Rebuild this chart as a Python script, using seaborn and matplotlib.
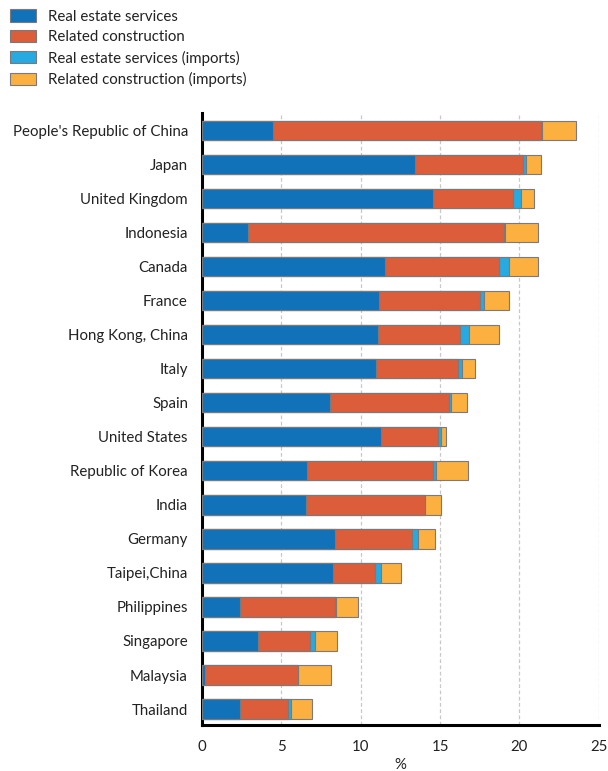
import matplotlib
matplotlib.use("Agg")
import matplotlib.pyplot as plt
import seaborn as sns
import numpy as np
import pandas as pd
from matplotlib.patches import Patch

economies = [
    "People's Republic of China", "Japan", "United Kingdom", "Indonesia",
    "Canada", "France", "Hong Kong, China", "Italy", "Spain",
    "United States", "Republic of Korea", "India", "Germany",
    "Taipei,China", "Philippines", "Singapore", "Malaysia", "Thailand",
]
real_estate = [4.46, 13.41, 14.53, 2.93, 11.52, 11.14, 11.07, 10.95, 8.08,
               11.26, 6.65, 6.57, 8.40, 8.25, 2.38, 3.56, 0.21, 2.40]
construction = [16.89, 6.82, 5.05, 16.08, 7.22, 6.35, 5.18, 5.18, 7.46,
                3.58, 7.90, 7.47, 4.86, 2.68, 5.98, 3.26, 5.85, 3.05]
real_estate_imp = [0.08, 0.17, 0.53, 0.08, 0.59, 0.28, 0.57, 0.25, 0.12,
                   0.19, 0.17, 0.04, 0.38, 0.33, 0.08, 0.30, 0.02, 0.19]
construction_imp = [2.15, 0.95, 0.82, 2.05, 1.83, 1.58, 1.90, 0.80, 1.03,
                    0.34, 2.06, 0.97, 1.03, 1.27, 1.37, 1.41, 2.05, 1.27]

series = ["Real estate services", "Related construction",
          "Real estate services (imports)", "Related construction (imports)"]
colors = ["#1172b9", "#dc5d3a", "#27a9e1", "#fbb040"]

df = pd.DataFrame({
    "economy": economies,
    series[0]: real_estate,
    series[1]: construction,
    series[2]: real_estate_imp,
    series[3]: construction_imp,
})
# cumulative ends of each stacked segment
cum = df[series].cumsum(axis=1)
cum["economy"] = df["economy"]

sns.set_theme(style="white")
plt.rcParams["font.family"] = ["Lato", "DejaVu Sans"]
fs = 10.8

fig = plt.figure(figsize=(6.08, 7.71), dpi=100)
ax = fig.add_axes([0.332, 0.0600, 0.653, 0.7935])

# draw from the outermost total inward so each segment sits on top
for name, col in reversed(list(zip(series, colors))):
    sns.barplot(data=cum, x=name, y="economy", order=economies, orient="h",
                color=col, saturation=1, width=0.57, edgecolor="#7a7a7a",
                linewidth=0.8, ax=ax, zorder=3)

ax.set_xlim(0, 25)
ax.set_ylim(17.46, -0.51)
ax.set_xticks([0, 5, 10, 15, 20, 25])
ax.set_xticklabels(["0", "5", "10", "15", "20", "25"], fontsize=fs,
                   color="#222222")
ax.set_yticks(range(len(economies)))
ax.set_yticklabels(economies, fontsize=fs, color="#222222")
ax.set_ylabel("")
ax.set_xlabel("%", fontsize=fs, color="#222222", labelpad=3)
ax.tick_params(axis="x", length=0, pad=11)
ax.tick_params(axis="y", length=0, pad=10)
ax.xaxis.grid(True, linestyle=(0, (3, 2)), color="#c8c8c8", linewidth=0.9,
              zorder=0)
ax.yaxis.grid(False)
ax.set_axisbelow(True)
for side in ["top", "right"]:
    ax.spines[side].set_visible(False)
for side in ["left", "bottom"]:
    ax.spines[side].set_visible(True)
    ax.spines[side].set_color("black")
    ax.spines[side].set_linewidth(2.2)

handles = [Patch(facecolor=c, edgecolor="#7a7a7a", linewidth=0.8) for c in colors]
leg = fig.legend(handles, series, loc="upper left", frameon=False, fontsize=fs,
                 handlelength=1.7, handleheight=0.88, handletextpad=0.85,
                 labelspacing=0.42, borderpad=0.0, borderaxespad=0.0,
                 labelcolor="#222222")
leg.set_bbox_to_anchor((0.0165, 0.988), transform=fig.transFigure)

fig.savefig("out.png", dpi=100)
